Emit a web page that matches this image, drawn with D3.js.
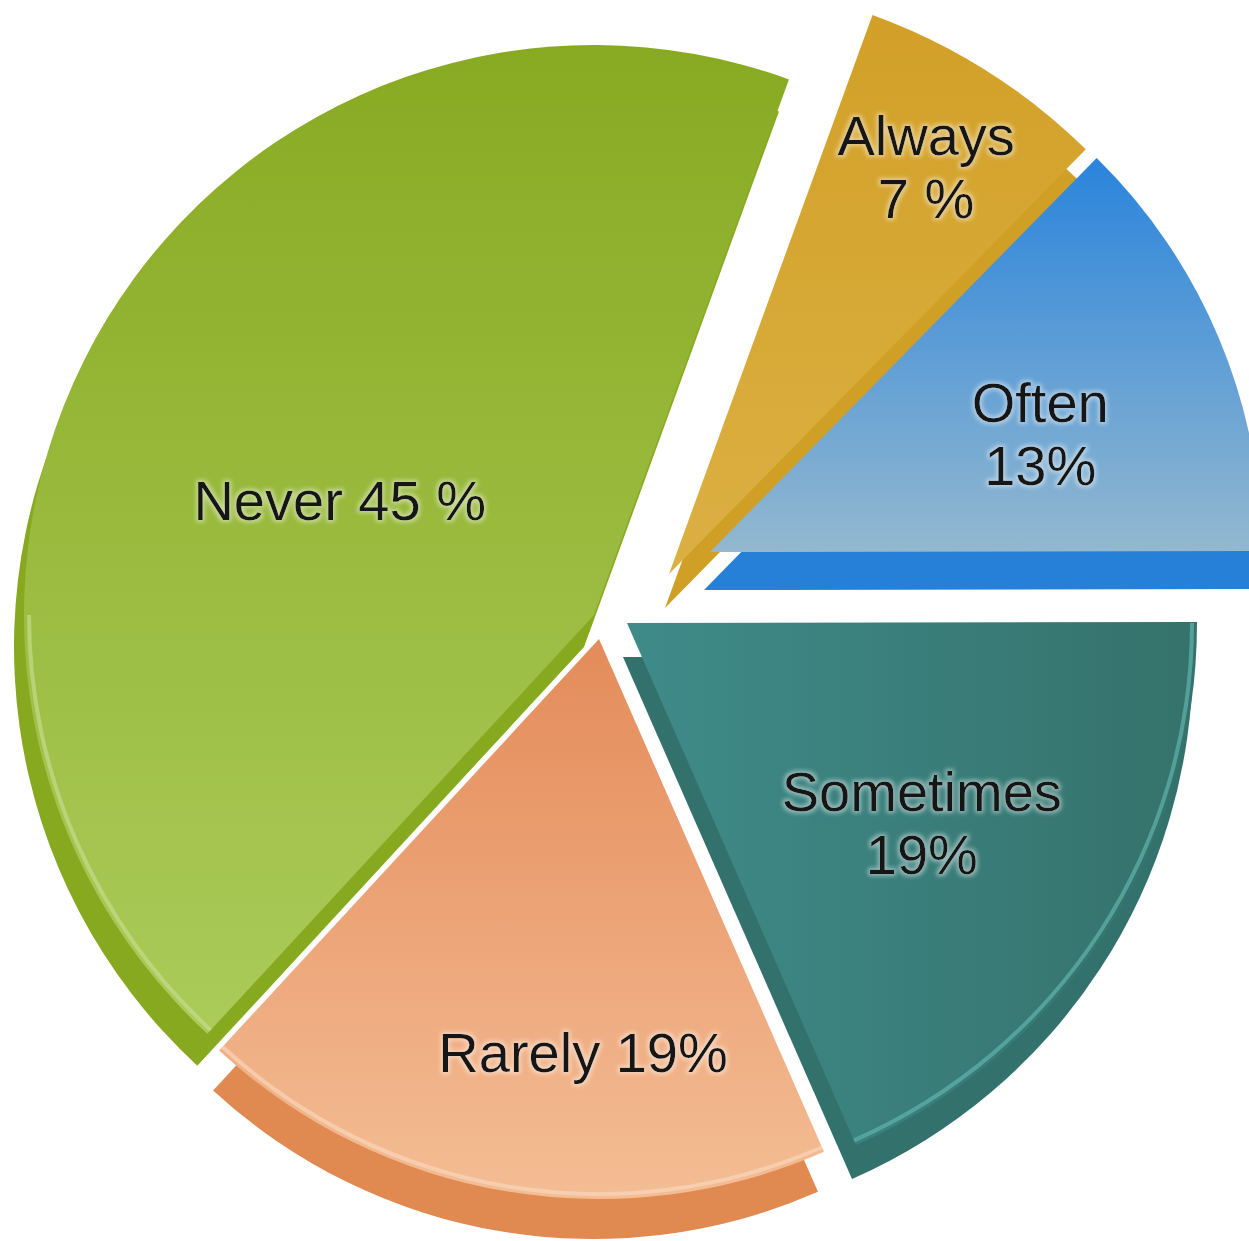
<!DOCTYPE html>
<html>
<head>
<meta charset="utf-8">
<script src="https://cdn.jsdelivr.net/npm/d3@7"></script>
<style>
  body { margin: 0; background: #fff; }
</style>
</head>
<body>
<script>
// slices in clockwise order, starting just right of 12 o'clock
const categories = ["Always", "Often", "Sometimes", "Rarely", "Never"];
const values = [7, 13, 19, 19, 45];
const labels = [["Always", "7 %"], ["Often", "13%"], ["Sometimes", "19%"], ["Rarely 19%"], ["Never 45 %"]];

const width = 1249;
const height = 1241;
const cx = 598;
const cy = 628;
const startAngle = (20 * Math.PI) / 180;
const fontSize = 56;
const lineHeight = 63;

// look of each slice: gradient, side colour, explode nudge, radius,
// side offset (fake 3d thickness), label distance and where along the arc it sits
const styles = {
  Always: { dir: "v", stops: ["#d2a027", "#dbb043"], side: "#cf9f26", hi: null,
    nudge: [71, -54], r: 595, shift: [-4, 34], labelR: 482, labelAt: 0.5 },
  Often: { dir: "v", stops: ["#2a84dc", "#93b8cf"], side: "#2680d8", hi: null,
    nudge: [112, -76], r: 552, shift: [-6, 38], labelR: 351, labelAt: 0.566 },
  Sometimes: { dir: "h", stops: ["#3f8b8a", "#35726b"], side: "#33716c", hi: "#5fb3ad",
    nudge: [29, -5], r: 570, shift: [-4, 34], labelR: 356, labelAt: 0.515 },
  Rarely: { dir: "v", stops: ["#e48b5a", "#f4bd94"], side: "#e08a52", hi: "#f8d6ba",
    nudge: [1, 11], r: 560, shift: [-6, 40], labelR: 413, labelAt: 0.39 },
  Never: { dir: "v", stops: ["#88aa22", "#abcb5a"], side: "#86a920", hi: "#c3dc8c",
    nudge: [-4, -13], r: 570, shift: [-10, 32], labelR: 279, labelAt: 0.455 },
};
// back to front so nearer slices cover the sides of farther ones
const drawOrder = ["Always", "Often", "Never", "Sometimes", "Rarely"];

const data = categories.map((c, i) => ({ category: c, value: values[i], label: labels[i] }));

const pie = d3
  .pie()
  .sort(null)
  .value((d) => d.value)
  .startAngle(startAngle)
  .endAngle(startAngle + 2 * Math.PI);
const arcs = pie(data);

const st = (d) => styles[d.data.category];
const arc = d3.arc().innerRadius(0).outerRadius((d) => st(d).r);
const rim = d3.arc().innerRadius((d) => d.r - 7).outerRadius((d) => d.r - 3);

const svg = d3
  .select("body")
  .append("svg")
  .attr("width", width)
  .attr("height", height)
  .attr("viewBox", [0, 0, width, height]);

const defs = svg.append("defs");

categories.forEach((c) => {
  const s = styles[c];
  const g = defs
    .append("linearGradient")
    .attr("id", "grad-" + c)
    .attr("x1", 0)
    .attr("y1", 0)
    .attr("x2", s.dir === "h" ? 1 : 0)
    .attr("y2", s.dir === "h" ? 0 : 1);
  g.append("stop").attr("offset", "0%").attr("stop-color", s.stops[0]);
  g.append("stop").attr("offset", "100%").attr("stop-color", s.stops[1]);
});

// soft light halo round the labels
const glow = defs
  .append("filter")
  .attr("id", "glow")
  .attr("x", "-10%")
  .attr("y", "-30%")
  .attr("width", "120%")
  .attr("height", "160%");
glow.append("feMorphology").attr("in", "SourceAlpha").attr("operator", "dilate").attr("radius", 2).attr("result", "d");
glow.append("feGaussianBlur").attr("in", "d").attr("stdDeviation", 2).attr("result", "b");
glow.append("feFlood").attr("flood-color", "#ffffff").attr("flood-opacity", 0.45);
glow.append("feComposite").attr("in2", "b").attr("operator", "in").attr("result", "g");
const merge = glow.append("feMerge");
merge.append("feMergeNode").attr("in", "g");
merge.append("feMergeNode").attr("in", "SourceGraphic");

const ordered = arcs
  .slice()
  .sort((a, b) => drawOrder.indexOf(a.data.category) - drawOrder.indexOf(b.data.category));

const slices = svg
  .append("g")
  .selectAll("g")
  .data(ordered)
  .join("g")
  .attr("transform", (d) => `translate(${cx + st(d).nudge[0]},${cy + st(d).nudge[1]})`);

// side
slices
  .append("path")
  .attr("transform", (d) => `translate(${st(d).shift})`)
  .attr("fill", (d) => st(d).side)
  .attr("d", arc);

// top face
slices
  .append("path")
  .attr("fill", (d) => `url(#grad-${d.data.category})`)
  .attr("d", arc);

// highlight along the lower half of the outer edge
slices
  .filter((d) => st(d).hi)
  .append("path")
  .attr("fill", (d) => st(d).hi)
  .attr("opacity", 0.7)
  .attr("d", (d) =>
    rim({
      r: st(d).r,
      startAngle: Math.max(d.startAngle, Math.PI / 2),
      endAngle: Math.min(d.endAngle, (3 * Math.PI) / 2),
    })
  );

// labels
const labelG = svg
  .append("g")
  .attr("font-family", "'Liberation Sans', Arial, sans-serif")
  .attr("font-size", fontSize)
  .attr("fill", "#141414")
  .attr("text-anchor", "middle")
  .attr("filter", "url(#glow)");

labelG
  .selectAll("text")
  .data(arcs)
  .join("text")
  .attr("transform", (d) => {
    const s = st(d);
    const a = d.startAngle + (d.endAngle - d.startAngle) * s.labelAt;
    const x = cx + s.nudge[0] + Math.sin(a) * s.labelR;
    const y = cy + s.nudge[1] - Math.cos(a) * s.labelR;
    return `translate(${x},${y})`;
  })
  .each(function (d) {
    const lines = d.data.label;
    const t = d3.select(this);
    lines.forEach((line, i) => {
      t.append("tspan")
        .attr("x", 0)
        .attr("y", (i - (lines.length - 1) / 2) * lineHeight)
        .attr("dy", "0.36em")
        .text(line);
    });
  });
</script>
</body>
</html>
